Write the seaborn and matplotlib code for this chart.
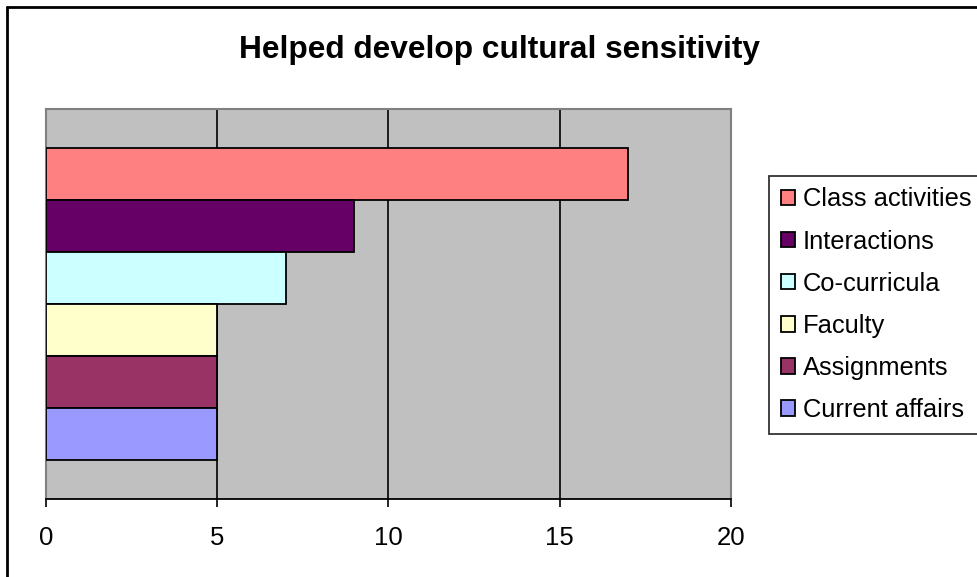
import matplotlib
matplotlib.use("Agg")
import matplotlib.pyplot as plt
from matplotlib.lines import Line2D
import seaborn as sns
import pandas as pd

# Survey responses: "Helped develop cultural sensitivity"
sources = ["Class activities", "Interactions", "Co-curricula",
           "Faculty", "Assignments", "Current affairs"]
counts = [17, 9, 7, 5, 5, 5]
colors = ["#FF8080", "#660066", "#CCFFFF", "#FFFFCC", "#993366", "#9999FF"]
x_ticks = [0, 5, 10, 15, 20]

df = pd.DataFrame({"group": [""] * len(sources), "source": sources, "count": counts})

sns.set_style("white")
plt.rcParams["font.family"] = ["Liberation Sans", "DejaVu Sans"]
plt.rcParams["text.color"] = "black"
plt.rcParams["xtick.color"] = "black"

fig = plt.figure(figsize=(9.78, 5.77), dpi=100)
ax = fig.add_axes([46 / 978, 1 - 499 / 577, (731 - 46) / 978, (499 - 109) / 577])
ax.set_facecolor("#C0C0C0")

sns.barplot(data=df, x="count", y="group", hue="source", hue_order=sources,
            palette=colors, saturation=1, orient="h", width=0.8, dodge=True,
            edgecolor="black", linewidth=1.3, ax=ax, legend=True, zorder=3)

ax.set_xlim(0, 20)
ax.set_ylim(0.5, -0.5)
ax.set_xticks(x_ticks)
ax.set_xticklabels([str(t) for t in x_ticks], fontsize=18.5, color="black")
ax.set_yticks([])
ax.set_xlabel("")
ax.set_ylabel("")
ax.tick_params(axis="x", direction="out", length=6, width=1.2, color="black",
               pad=13.5, bottom=True)
ax.grid(axis="x", color="black", linewidth=1.2, zorder=0)
ax.set_axisbelow(True)
for side in ["left", "top", "right"]:
    ax.spines[side].set_color("#808080")
    ax.spines[side].set_linewidth(1.5)
ax.spines["bottom"].set_color("black")
ax.spines["bottom"].set_linewidth(1.3)

handles, labels = ax.get_legend_handles_labels()
ax.get_legend().remove()
leg = fig.legend(handles, labels, loc="upper left",
                 bbox_to_anchor=(769 / 978, 1 - 176 / 577),
                 fontsize=18.4, frameon=True, fancybox=False,
                 handlelength=0.55, handleheight=0.55, handletextpad=0.33,
                 labelspacing=0.71, borderpad=0.45, borderaxespad=0)
leg.get_frame().set_edgecolor("black")
leg.get_frame().set_linewidth(1.3)
for t in leg.get_texts():
    t.set_color("black")

fig.text(0.511, 1 - 50 / 577, "Helped develop cultural sensitivity",
         ha="center", va="center", fontsize=22.8, fontweight="bold", color="black")

# outer chart frame
fig.add_artist(Line2D([7 / 978, 7 / 978], [0, 1 - 7 / 577], color="black", linewidth=2))
fig.add_artist(Line2D([7 / 978, 1], [1 - 7 / 577, 1 - 7 / 577], color="black", linewidth=2))

fig.savefig("out.png", dpi=100)
